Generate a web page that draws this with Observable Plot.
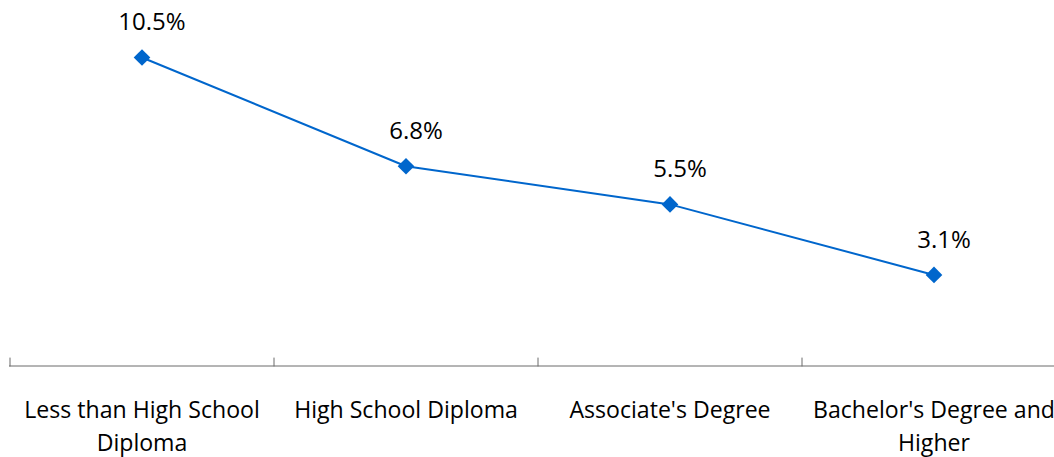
<!DOCTYPE html>
<html>
<head>
<meta charset="utf-8">
<script src="https://cdn.jsdelivr.net/npm/d3@7"></script>
<script src="https://cdn.jsdelivr.net/npm/@observablehq/plot@0.6"></script>
<style>
  html, body { margin: 0; padding: 0; background: #fff; overflow: hidden; }
  #chart svg { display: block; overflow: visible; }
</style>
</head>
<body>
<div id="chart"></div>
<script>
const categories = ["Less than High School\nDiploma", "High School Diploma", "Associate's Degree", "Bachelor's Degree and\nHigher"];
const rates = [10.5, 6.8, 5.5, 3.1];
const valueLabels = ["10.5%", "6.8%", "5.5%", "3.1%"];

const data = categories.map((c, i) => ({idx: i + 0.5, category: c, rate: rates[i], label: valueLabels[i]}));
const boundaries = d3.range(categories.length + 1);

const font = "'Open Sans', sans-serif";
const blue = "#0066cc";

const chart = Plot.plot({
  width: 1054,
  height: 457,
  marginLeft: 9,
  marginRight: 0,
  marginTop: 0,
  marginBottom: 92,
  style: {fontFamily: font, background: "#fff", overflow: "visible"},
  x: {domain: [0, categories.length], range: [9.5, 1065.5], axis: null},
  y: {domain: [0, 10.5], range: [365.5, 57], axis: null},
  marks: [
    Plot.ruleY([0], {stroke: "#6b6b6b", strokeWidth: 1}),
    Plot.vector(boundaries, {
      x: d => d, y: 0, length: 8, anchor: "start", stroke: "#6b6b6b", strokeWidth: 1,
      shape: {draw(ctx, l) { ctx.moveTo(0, 0); ctx.lineTo(0, -l); }}
    }),
    Plot.line(data, {x: "idx", y: "rate", stroke: blue, strokeWidth: 2}),
    Plot.dot(data, {x: "idx", y: "rate", symbol: "diamond2", r: 7.5, fill: blue, stroke: "none"}),
    Plot.text(data, {x: "idx", y: "rate", text: "label", dy: -35, dx: 10, fontSize: 24, fill: "#000", fontFamily: font}),
    Plot.text(data, {x: "idx", y: 0, text: "category", dy: 28.5, lineAnchor: "top", lineHeight: 1.43, fontSize: 23.1, fill: "#000", fontFamily: font})
  ]
});
document.getElementById("chart").appendChild(chart);
</script>
</body>
</html>
